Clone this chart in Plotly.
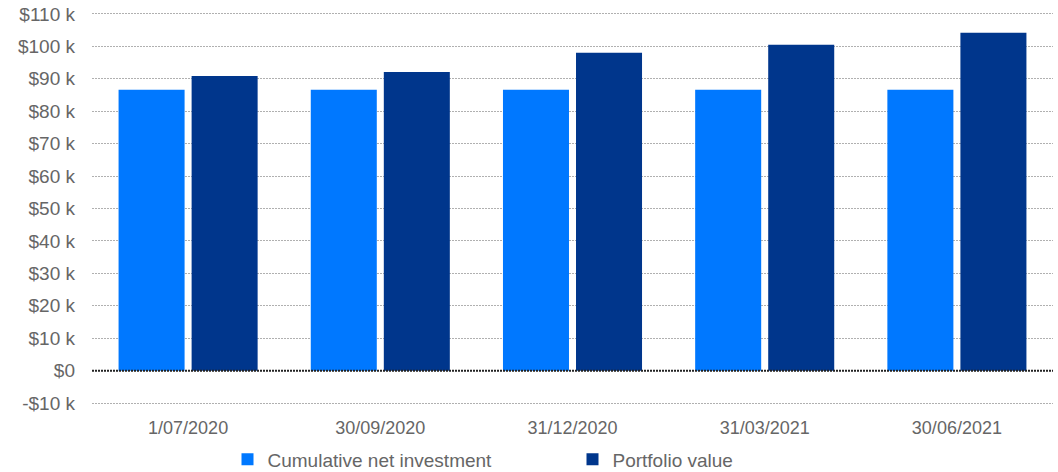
import plotly.graph_objects as go

categories = ["1/07/2020", "30/09/2020", "31/12/2020", "31/03/2021", "30/06/2021"]
net_investment = [86600, 86600, 86600, 86600, 86600]
portfolio_value = [90900, 92100, 98000, 100500, 104200]
tick_values = [-10000, 0, 10000, 20000, 30000, 40000, 50000, 60000, 70000, 80000, 90000, 100000, 110000]
tick_labels = ["-$10 k", "$0", "$10 k", "$20 k", "$30 k", "$40 k", "$50 k", "$60 k", "$70 k",
               "$80 k", "$90 k", "$100 k", "$110 k"]

family = "Liberation Sans, Arial, sans-serif"
grey = "#666666"

fig = go.Figure()
fig.add_trace(go.Bar(name="Cumulative net investment", x=categories, y=net_investment,
                     marker=dict(color="#0078FF", line=dict(width=0))))
fig.add_trace(go.Bar(name="Portfolio value", x=categories, y=portfolio_value,
                     marker=dict(color="#00368C", line=dict(width=0))))

fig.add_shape(type="line", xref="paper", x0=0, x1=1, yref="y", y0=0, y1=0,
              line=dict(color="#222222", width=2, dash="2px,1px"), layer="above")

fig.update_layout(
    width=1058, height=472,
    margin=dict(l=92, r=5, t=12, b=67, autoexpand=False),
    paper_bgcolor="white", plot_bgcolor="white",
    barmode="group", bargap=0.24, bargroupgap=0.096,
    font=dict(family=family, size=18, color=grey),
    showlegend=True,
    legend=dict(orientation="h", x=0.5, xanchor="center", y=-0.09, yanchor="top",
                font=dict(family=family, size=19, color=grey), entrywidth=300,
                traceorder="normal"),
    xaxis=dict(showgrid=False, showline=False, ticks="", automargin=False,
               ticklabelstandoff=10,
               tickfont=dict(family=family, size=18, color=grey)),
    yaxis=dict(range=[-10600, 110600], tickvals=tick_values, ticktext=tick_labels,
               showgrid=True, gridcolor="#B0B0B0", gridwidth=1, griddash="2px,1px",
               zeroline=False, showline=False, ticks="", ticklabelstandoff=16,
               automargin=False, tickfont=dict(family=family, size=19, color=grey)),
)

fig.write_html("out.html", config={"displayModeBar": False},
               post_script="document.body.style.margin='0';document.body.style.padding='0';")
